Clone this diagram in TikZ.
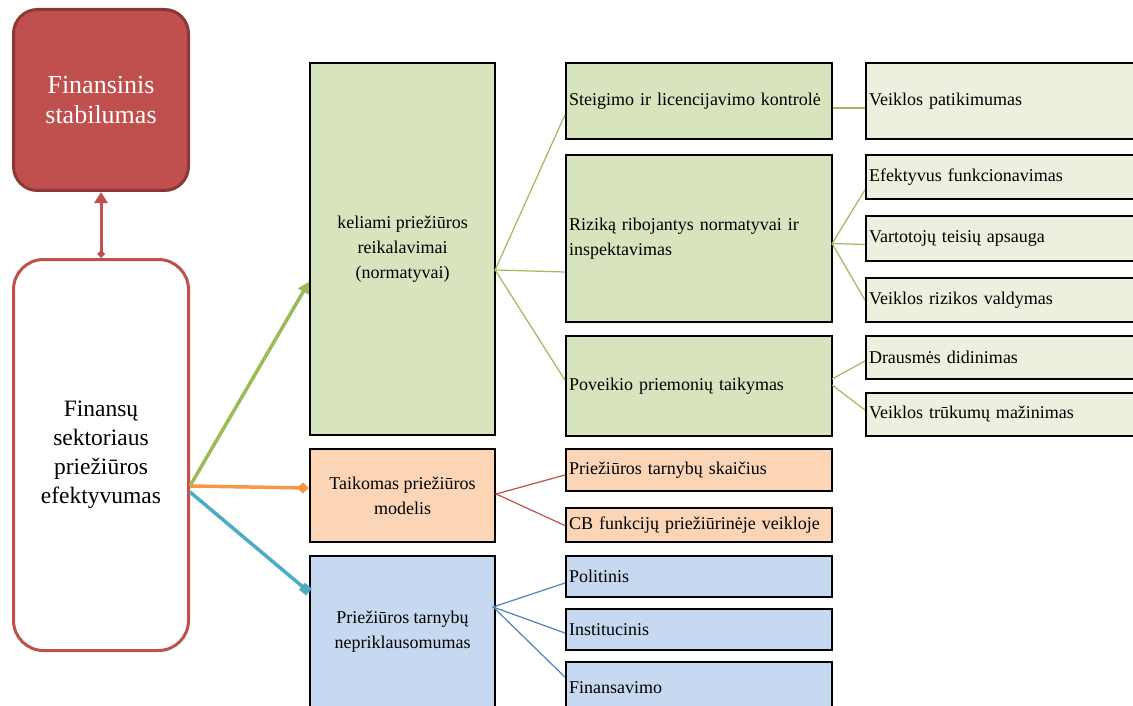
\documentclass[tikz,border=0pt]{standalone}
\usepackage{fontspec}
\setmainfont{Liberation Serif}
\usetikzlibrary{arrows.meta,calc}

\definecolor{accred}{HTML}{C0504D}
\definecolor{accreddark}{HTML}{8C3836}
\definecolor{accgreen}{HTML}{9BBB59}
\definecolor{accorange}{HTML}{F79646}
\definecolor{accteal}{HTML}{4BACC6}
\definecolor{accblue}{HTML}{4F81BD}
\definecolor{fillgreen}{HTML}{D7E4BD}
\definecolor{fillpale}{HTML}{EBF1DE}
\definecolor{fillpeach}{HTML}{FBD5B5}
\definecolor{fillblue}{HTML}{C6D9F1}

\begin{document}
\begin{tikzpicture}[x=1pt,y=-1pt,
  box/.style={draw=black, line width=2.2pt, inner sep=0pt, text=black,
    font=\fontsize{18}{25}\selectfont},
  midbox/.style={box, minimum width=185pt, align=center},
  leafbox/.style={box, align=left, text width=260pt, inner xsep=3pt},
  outbox/.style={box, align=left, text width=268pt, inner xsep=3pt, fill=fillpale},
  thick link/.style={line width=3.5pt},
  thin link/.style={line width=1.2pt},
]
\path[use as bounding box, clip] (0,0) rectangle (1133,706);

% left column
\node[draw=accreddark, fill=accred, line width=3pt, rounded corners=24pt,
      minimum width=175pt, minimum height=181pt, text=white, align=center,
      font=\fontsize{26}{30}\selectfont] (stab) at (101,100) {Finansinis\\stabilumas};
\node[draw=accred, fill=white, line width=3pt, rounded corners=30pt,
      minimum width=175pt, minimum height=391pt, text=black, align=center,
      font=\fontsize{23.5}{29}\selectfont] (fin) at (101,455)
      {Finansų\\sektoriaus\\priežiūros\\efektyvumas};

% second column
\node[midbox, fill=fillgreen, minimum height=372pt] (kel) at (402.5,249)
  {keliami priežiūros\\reikalavimai\\(normatyvai)};
\node[midbox, fill=fillpeach, minimum height=93pt] (taik) at (402.5,495.5)
  {Taikomas priežiūros\\modelis};
\node[midbox, fill=fillblue, minimum height=152pt] (nepr) at (402.5,632)
  {Priežiūros tarnybų\\nepriklausomumas};

% third column
\node[leafbox, fill=fillgreen, minimum height=76pt] (steig) at (699,101)
  {Steigimo ir licencijavimo kontrolė};
\node[leafbox, fill=fillgreen, minimum height=167pt] (riz) at (699,238.5)
  {Riziką ribojantys normatyvai ir\\inspektavimas};
\node[leafbox, fill=fillgreen, minimum height=100pt] (pov) at (699,386)
  {Poveikio priemonių taikymas};
\node[leafbox, fill=fillpeach, minimum height=42pt] (skaic) at (699,470)
  {Priežiūros tarnybų skaičius};
\node[leafbox, fill=fillpeach, minimum height=34pt] (cb) at (699,525)
  {CB funkcijų priežiūrinėje veikloje};
\node[leafbox, fill=fillblue, minimum height=41pt] (polit) at (699,576.5)
  {Politinis};
\node[leafbox, fill=fillblue, minimum height=41pt] (inst) at (699,629.5)
  {Institucinis};
\node[leafbox, fill=fillblue, minimum height=52pt] (finans) at (699,688)
  {Finansavimo};

% fourth column
\node[outbox, minimum height=76pt] (patik) at (1003,101) {Veiklos patikimumas};
\node[outbox, minimum height=44pt] (efekt) at (1003,177) {Efektyvus funkcionavimas};
\node[outbox, minimum height=45pt] (vart) at (1003,238.5) {Vartotojų teisių apsauga};
\node[outbox, minimum height=44pt] (rval) at (1003,300) {Veiklos rizikos valdymas};
\node[outbox, minimum height=43pt] (draus) at (1003,357.5) {Drausmės didinimas};
\node[outbox, minimum height=43pt] (truk) at (1003,414.5) {Veiklos trūkumų mažinimas};

% main links
\draw[accred, line width=3pt, {Diamond[length=8pt,width=8pt]}-{Triangle[length=11pt,width=13pt]}]
  (fin.north) -- (stab.south);
\coordinate (hub) at ($(fin.east)+(0,31)$);
\draw[accgreen, thick link, -{Triangle[length=11pt,width=12pt]}]
  (hub) -- ($(kel.west)+(0,33)$);
\draw[accorange, thick link, -{Diamond[length=12pt,width=11pt]}]
  (hub) -- ($(taik.west)+(0,-7.5)$);
\draw[accteal, thick link, -{Square[length=9pt,width=9pt]}]
  ($(hub)+(0,6)$) -- ($(nepr.west)+(0,-40)$);

% branch links
\coordinate (kj) at ($(kel.east)+(-1,21)$);
\draw[accgreen, thin link] (steig.west |- 0,115) -- (kj) -- ($(riz.west)+(0,33.5)$);
\draw[accgreen, thin link] (kj) -- ($(pov.west)+(0,-6)$);
\draw[accgreen, thin link] ($(steig.east)+(0,7)$) -- ($(patik.west)+(0,7)$);
\coordinate (rj) at ($(riz.east)+(-1,5)$);
\draw[accgreen, thin link] ($(efekt.west)+(0,13)$) -- (rj) -- ($(vart.west)+(0,6)$);
\draw[accgreen, thin link] (rj) -- (rval.west);
\draw[accgreen, thin link] ($(pov.east)+(-1,-7)$) -- ($(draus.west)+(0,3.5)$);
\draw[accgreen, thin link] ($(pov.east)+(-1,-1)$) -- ($(truk.west)+(0,-4.5)$);
\coordinate (tj) at ($(taik.east)+(0,-1.5)$);
\draw[accred, thin link] ($(skaic.west)+(0,5)$) -- (tj) -- ($(cb.west)+(0,0.5)$);
\coordinate (nj) at ($(nepr.east)+(-3,-25)$);
\draw[accblue, thin link] ($(polit.west)+(0,6.5)$) -- (nj) -- ($(inst.west)+(0,3.5)$);
\draw[accblue, thin link] (nj) -- ($(finans.west)+(0,-11)$);
\end{tikzpicture}
\end{document}
